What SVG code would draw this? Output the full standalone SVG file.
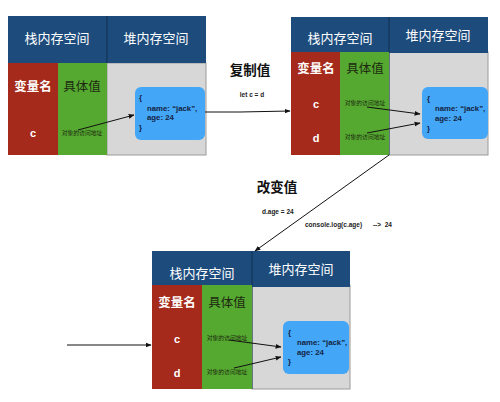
<svg xmlns="http://www.w3.org/2000/svg" width="500" height="402" viewBox="0 0 500 402">
<style>
.hdr{fill:#1c4b7c}
.red{fill:#a52a1b}
.grn{fill:#55a930}
.gry{fill:#d7d7d7;stroke:#9a9a9a;stroke-width:1}
.obj{fill:#43a6f7}
.ht{font-family:"Noto Sans CJK SC","Noto Sans",sans-serif;font-size:13px;fill:#ffffff;text-anchor:middle}
.vn{font-family:"Noto Sans CJK SC",sans-serif;font-size:12.5px;font-weight:bold;fill:#ffffff;text-anchor:middle}
.vv{font-family:"Noto Sans CJK SC",sans-serif;font-size:12.5px;fill:#1d2a10;text-anchor:middle}
.var{font-family:"Liberation Sans",Arial,sans-serif;font-size:11px;font-weight:bold;fill:#ffffff;text-anchor:middle}
.addr{font-family:"Noto Sans CJK SC",sans-serif;font-size:5.8px;fill:#1d2a10;text-anchor:middle}
.ot{font-family:"Liberation Sans",Arial,sans-serif;font-size:7.8px;font-weight:bold;fill:#13233f}
.big{font-family:"Noto Sans CJK SC",sans-serif;font-size:13.5px;font-weight:bold;fill:#111111;text-anchor:middle}
.code{font-family:"Liberation Sans",Arial,sans-serif;font-size:6.5px;font-weight:bold;fill:#222222;white-space:pre}
.ln{stroke:#111111;stroke-width:1;fill:none}
.ar{stroke:#111111;stroke-width:1;fill:none;marker-end:url(#ah)}
</style>
<defs>
<marker id="ah" viewBox="0 0 10 10" refX="9" refY="5" markerWidth="6" markerHeight="6" orient="auto" markerUnits="userSpaceOnUse">
<path d="M0,1 L10,5 L0,9 z" fill="#111111"/>
</marker>
</defs>
<rect width="500" height="402" fill="#ffffff"/>

<g id="state1">
<rect class="gry" x="107" y="63" width="99" height="92"/>
<rect class="hdr" x="8" y="16" width="99" height="47"/>
<rect class="hdr" x="107" y="16" width="99" height="47"/>
<line x1="107" y1="16" x2="107" y2="63" stroke="#10304f" stroke-width="1"/>
<rect class="red" x="8" y="63" width="50" height="92"/>
<rect class="grn" x="58" y="63" width="49" height="92"/>
<text class="ht" x="57" y="43">栈内存空间</text>
<text class="ht" x="156" y="43">堆内存空间</text>
<text class="vn" x="33" y="91">变量名</text>
<text class="vv" x="82" y="91">具体值</text>
<text class="var" x="33" y="137">c</text>
<text class="addr" x="82" y="135">对象的访问地址</text>
<rect class="obj" x="135" y="87" width="70" height="53" rx="6"/>
<text class="ot" x="139" y="100">{</text>
<text class="ot" x="147" y="111">name: “jack”,</text>
<text class="ot" x="147" y="120">age: 24</text>
<text class="ot" x="139" y="130">}</text>
</g>

<g id="state2">
<rect class="gry" x="389" y="52" width="99" height="103"/>
<rect class="hdr" x="291" y="17" width="98" height="35"/>
<rect class="hdr" x="389" y="17" width="99" height="36"/>
<line x1="389" y1="17" x2="389" y2="155" stroke="#10304f" stroke-width="1"/>
<rect class="red" x="291" y="52" width="49" height="103"/>
<rect class="grn" x="340" y="52" width="49" height="103"/>
<text class="ht" x="340" y="43">栈内存空间</text>
<text class="ht" x="438" y="40">堆内存空间</text>
<text class="vn" x="316" y="73">变量名</text>
<text class="vv" x="365" y="73">具体值</text>
<text class="var" x="316" y="108">c</text>
<text class="var" x="316" y="142">d</text>
<text class="addr" x="365" y="105">对象的访问地址</text>
<text class="addr" x="365" y="139">对象的访问地址</text>
<rect class="obj" x="422" y="87" width="66" height="52" rx="6"/>
<text class="ot" x="427" y="101">{</text>
<text class="ot" x="435" y="111">name: “jack”,</text>
<text class="ot" x="435" y="121">age: 24</text>
<text class="ot" x="427" y="131">}</text>
</g>

<g id="state3">
<rect class="gry" x="252" y="285" width="98" height="104"/>
<rect class="hdr" x="152" y="251" width="100" height="34"/>
<rect class="hdr" x="252" y="251" width="98" height="36"/>
<line x1="252" y1="251" x2="252" y2="389" stroke="#10304f" stroke-width="1"/>
<rect class="red" x="152" y="285" width="50" height="104"/>
<rect class="grn" x="202" y="285" width="50" height="104"/>
<text class="ht" x="202" y="278">栈内存空间</text>
<text class="ht" x="301" y="274">堆内存空间</text>
<text class="vn" x="177" y="307">变量名</text>
<text class="vv" x="227" y="307">具体值</text>
<text class="var" x="177" y="343">c</text>
<text class="var" x="177" y="377">d</text>
<text class="addr" x="227" y="340">对象的访问地址</text>
<text class="addr" x="227" y="374">对象的访问地址</text>
<rect class="obj" x="283" y="321" width="66" height="53" rx="6"/>
<text class="ot" x="288" y="335">{</text>
<text class="ot" x="297" y="345">name: “jack”,</text>
<text class="ot" x="297" y="355">age: 24</text>
<text class="ot" x="288" y="364">}</text>
</g>

<g id="labels">
<text class="big" x="250" y="75">复制值</text>
<text class="code" x="252" y="97" text-anchor="middle">let c = d</text>
<text class="big" x="277" y="192">改变值</text>
<text class="code" x="262" y="214">d.age = 24</text>
<text class="code" x="305" y="227" xml:space="preserve">console.log(c.age)      --&gt;  24</text>
</g>

<g id="connectors">
<line class="ar" x1="78" y1="130" x2="134" y2="115"/>
<line class="ln" x1="205" y1="112" x2="240" y2="112"/>
<line class="ar" x1="240" y1="112" x2="290" y2="111"/>
<line class="ar" x1="367" y1="107" x2="420" y2="114"/>
<line class="ar" x1="367" y1="133" x2="420" y2="123"/>
<line class="ar" x1="389" y1="155" x2="255" y2="251"/>
<line class="ar" x1="67" y1="345" x2="151" y2="345"/>
<line class="ar" x1="229" y1="340" x2="281" y2="347"/>
<line class="ar" x1="234" y1="368" x2="281" y2="357"/>
</g>
</svg>
